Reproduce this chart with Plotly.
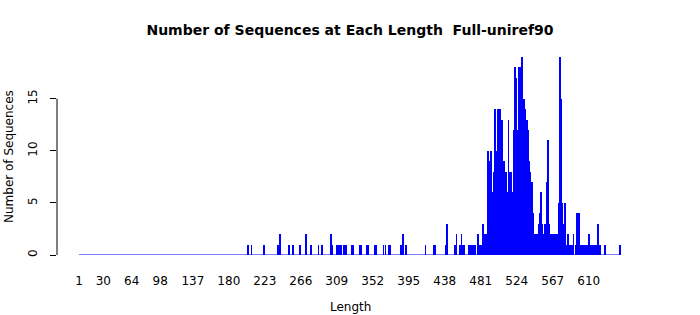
import plotly.graph_objects as go

# Sequence lengths present (non-zero counts) and their counts
nonzero_lengths = [
    203, 207, 222, 239, 241, 252, 257, 265, 272, 273, 278, 287, 291, 302, 304, 309, 312, 314,
    318, 320, 327, 329, 337, 338, 345, 347, 354, 356, 365, 367, 371, 373, 386, 388, 392,
    415, 425, 427, 439, 441, 450, 452, 456, 458, 459, 461, 467, 469, 472, 474, 478, 480,
    482, 484,
    486, 487, 488, 489, 490, 491, 492, 493, 494, 495, 496, 497, 498, 499, 500, 501, 502,
    503, 504, 505, 506, 507, 508, 509, 510, 511, 512, 513, 514, 515, 516, 517, 518, 519,
    520, 521, 522, 523, 524, 525, 526, 527, 528, 529, 530, 531, 532, 533, 534, 535, 536,
    537, 538, 539, 540, 541, 542, 543, 544, 545, 546, 547, 548, 549, 550, 551, 552, 553,
    554, 555, 556, 557, 558, 559, 560, 561,
    562, 563, 564, 565, 566, 567, 568, 569, 570, 571, 572, 573, 574, 575, 576, 577, 578,
    579, 580, 581, 582, 583, 585, 586, 588, 590, 592, 595, 596, 597, 598, 599, 600, 601,
    603, 605, 607, 608, 610, 611, 612, 614, 616, 617, 618, 619, 621, 622, 624, 629, 630, 647,
]
nonzero_counts = [
    1, 1, 1, 1, 2, 1, 1, 1, 2, 1, 1, 1, 1, 2, 1, 1, 1, 1,
    1, 1, 1, 1, 1, 1, 1, 1, 1, 1, 1, 1, 1, 1, 1, 2, 1,
    1, 1, 1, 1, 3, 1, 2, 1, 2, 1, 1, 1, 1, 1, 1, 2, 1,
    1, 3,
    2, 1, 2, 5, 10, 9, 7, 10, 7, 6, 5, 8, 14, 8, 10, 14, 6,
    14, 14, 13, 6, 13, 3, 9, 6, 8, 6, 5, 13, 6, 8, 8, 4, 6,
    10, 12, 18, 17, 10, 12, 18, 17, 18, 17, 19, 15, 11, 15, 14, 10, 13,
    13, 12, 9, 8, 7, 4, 7, 4, 2, 2, 2, 1, 2, 3, 4, 4, 6,
    3, 1, 2, 2, 3, 2, 7, 11,
    7, 3, 1, 2, 1, 2, 2, 1, 2, 2, 2, 1, 5, 2, 19, 15, 5,
    3, 2, 1, 5, 1, 2, 2, 1, 1, 2, 1, 4, 1, 4, 1, 1, 1,
    1, 1, 1, 1, 2, 2, 1, 1, 1, 1, 1, 1, 3, 1, 1, 1, 1, 1,
]
min_length = 1
max_length = 647

tick_labels = [1, 30, 64, 98, 137, 180, 223, 266, 309, 352, 395, 438, 481, 524, 567, 610]
y_ticks = [0, 5, 10, 15]

all_lengths = list(range(min_length, max_length + 1))
count_map = dict(zip(nonzero_lengths, nonzero_counts))
all_counts = [count_map.get(L, 0) for L in all_lengths]

BLUE = "#0000FF"

fig = go.Figure()
fig.add_trace(go.Bar(
    x=all_lengths, y=all_counts, width=0.8,
    marker=dict(color=BLUE, line=dict(width=0)),
    showlegend=False, hoverinfo="x+y",
))
fig.add_trace(go.Scatter(
    x=[all_lengths[0], all_lengths[-1]], y=[0, 0], mode="lines",
    line=dict(color=BLUE, width=1), showlegend=False, hoverinfo="skip",
))

L_MARGIN, R_MARGIN, T_MARGIN, B_MARGIN = 57, 20, 57, 60
px_per_unit = 0.837
x_left = 1 - (79 - L_MARGIN) / px_per_unit
x_right = 1 + (700 - R_MARGIN - 79) / px_per_unit
plot_w = 700 - L_MARGIN - R_MARGIN
plot_h = 315 - T_MARGIN - B_MARGIN

font = "DejaVu Sans, Liberation Sans, sans-serif"

fig.update_layout(
    width=700, height=315,
    margin=dict(l=L_MARGIN, r=R_MARGIN, t=T_MARGIN, b=B_MARGIN),
    paper_bgcolor="white", plot_bgcolor="white",
    font=dict(family=font, size=12, color="black"),
    title=dict(text="<b>Number of Sequences at Each Length  Full-uniref90</b>",
               x=0.5, xanchor="center", y=1 - 30 / 315, yanchor="middle",
               yref="container", font=dict(size=14, family=font)),
    bargap=0,
    xaxis=dict(range=[x_left, x_right], showgrid=False, zeroline=False, showline=False,
               tickmode="array", tickvals=tick_labels, ticktext=[str(t) for t in tick_labels],
               ticks="", ticklabelstandoff=17, tickfont=dict(size=12)),
    yaxis=dict(range=[0, 19], showgrid=False, zeroline=False, showline=False,
               tickmode="array", tickvals=y_ticks, ticktext=[str(t) for t in y_ticks],
               ticks="outside", ticklen=6, tickwidth=1, tickcolor="black",
               tickangle=-90, ticklabelstandoff=8, tickfont=dict(size=12)),
    shapes=[dict(type="line", xref="paper", yref="y", x0=0, x1=0,
                 y0=y_ticks[0], y1=y_ticks[-1], line=dict(color="black", width=1))],
    annotations=[
        dict(text="Number of Sequences", xref="paper", yref="paper",
             x=(9 - L_MARGIN) / plot_w, y=(255 - 157) / plot_h, textangle=-90,
             showarrow=False, xanchor="center", yanchor="middle", font=dict(size=12)),
        dict(text="Length", xref="paper", yref="paper",
             x=(350 - L_MARGIN) / plot_w, y=(255 - 307) / plot_h,
             showarrow=False, xanchor="center", yanchor="middle", font=dict(size=12)),
    ],
)

fig.write_html("out.html")
